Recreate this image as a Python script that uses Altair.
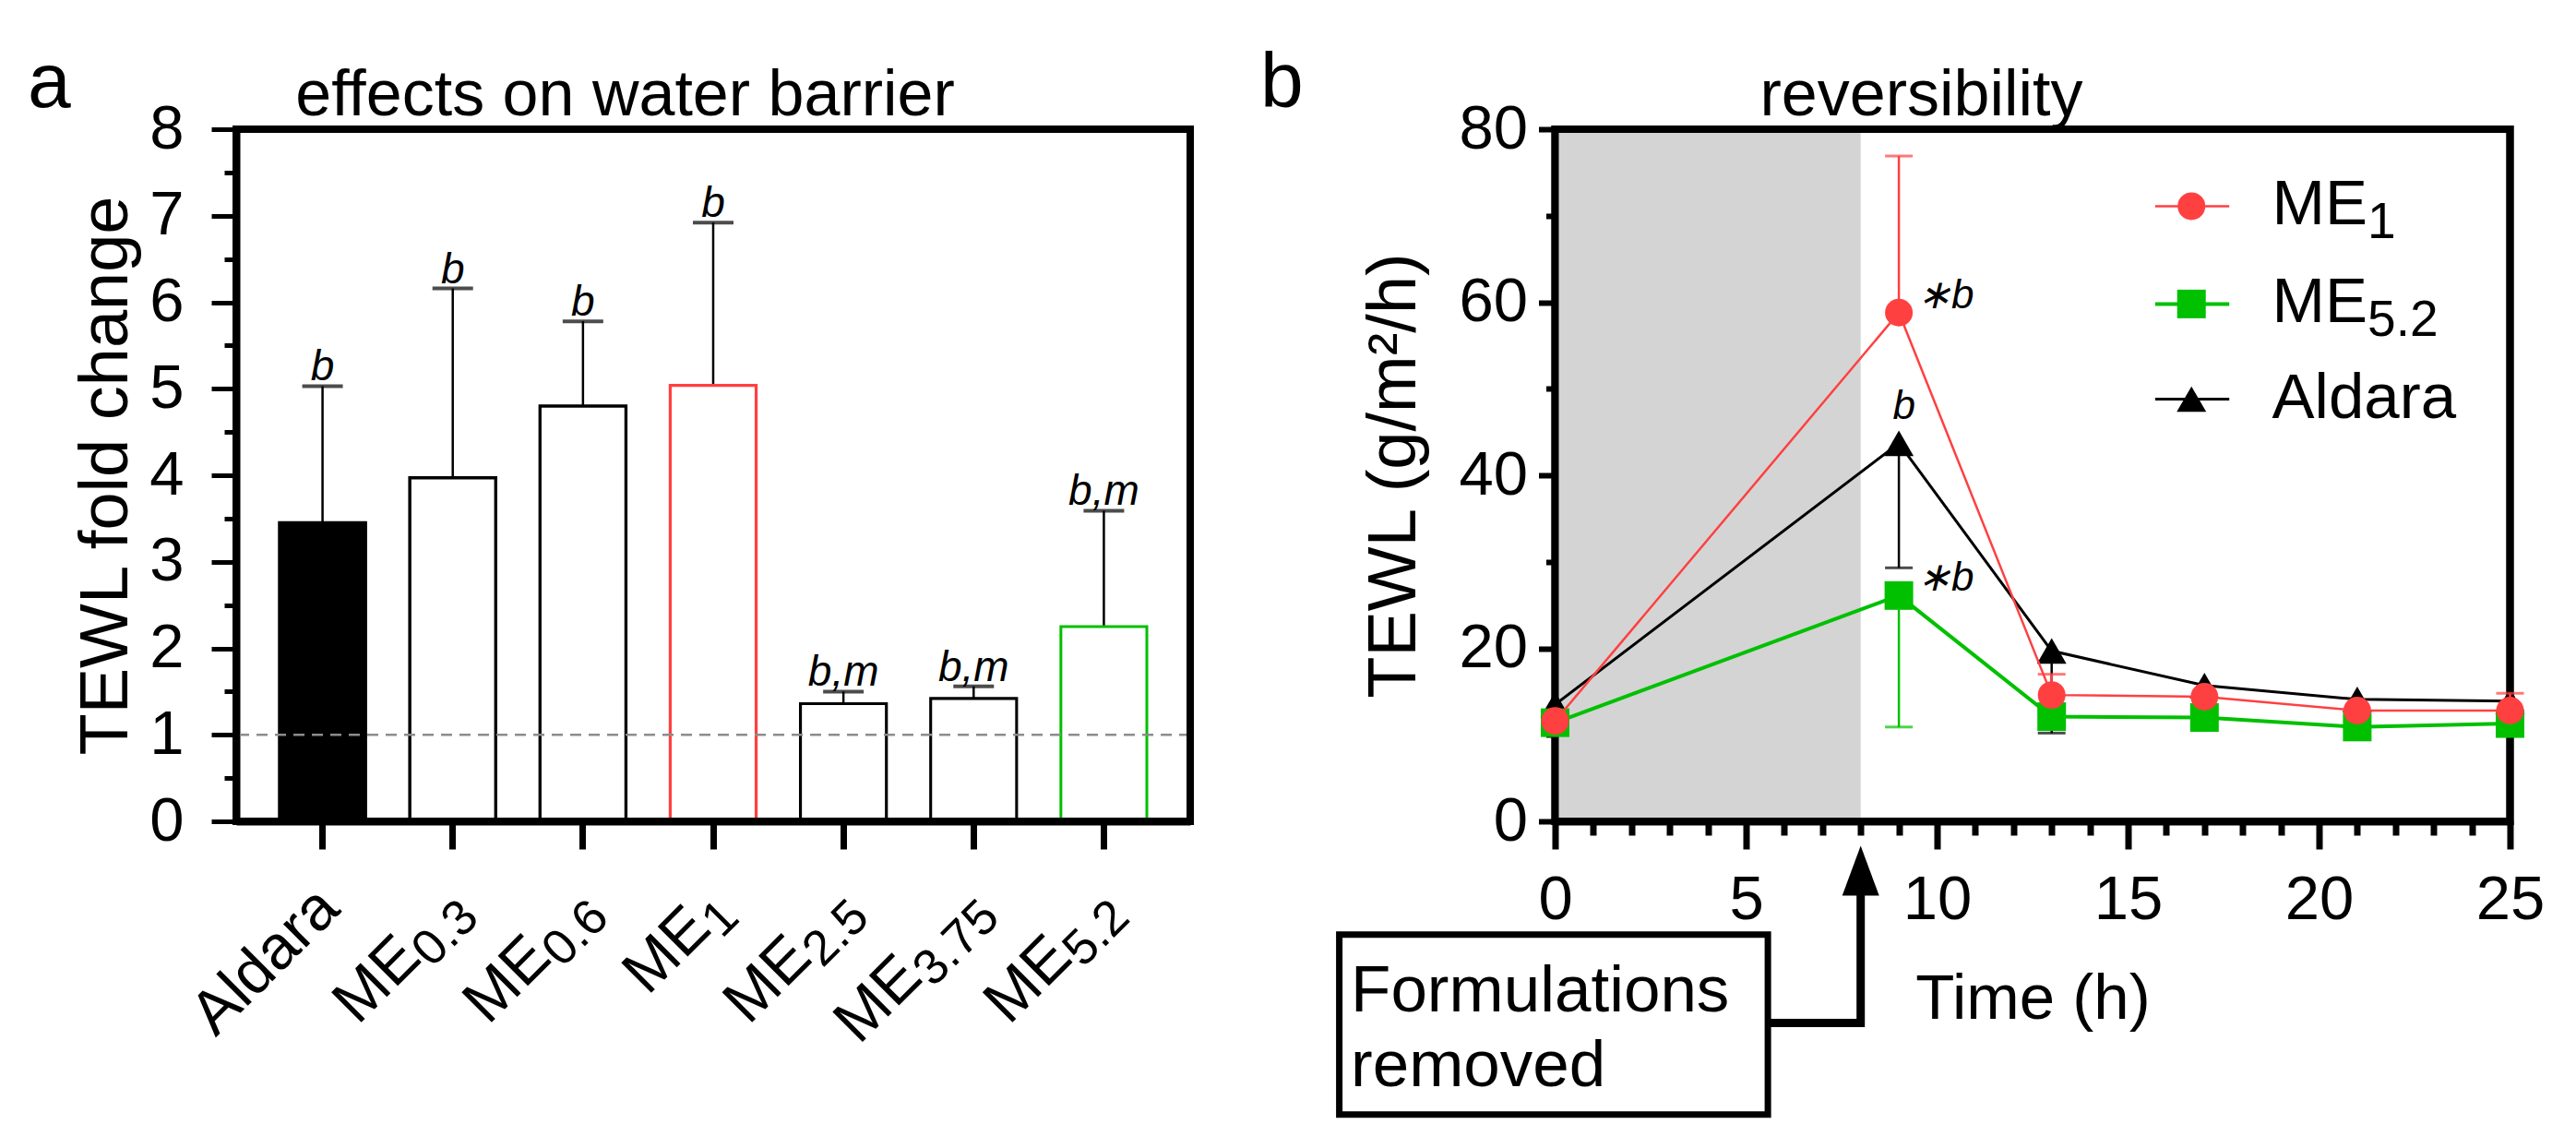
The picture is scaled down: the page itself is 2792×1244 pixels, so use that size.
import altair as alt
import pandas as pd

FONT = "Liberation Sans"
RED = "#FF4040"
GREEN = "#00C000"
SHADE = "#D4D4D4"

# ---------------- panel a : effects on water barrier ----------------
categories = ["Aldara", "ME0.3", "ME0.6", "ME1", "ME2.5", "ME3.75", "ME5.2"]
label_main = ["Aldara", "ME", "ME", "ME", "ME", "ME", "ME"]
label_sub = ["", "0.3", "0.6", "1", "2.5", "3.75", "5.2"]
fold_change = [3.45, 3.97, 4.80, 5.04, 1.36, 1.42, 2.25]
fold_sd_top = [5.03, 6.16, 5.78, 6.92, 1.50, 1.56, 3.59]
sig_a = ["b", "b", "b", "b", "b,m", "b,m", "b,m"]
reference_level = [1]

# ---------------- panel b : reversibility ----------------
time_h = [0, 9, 13, 17, 21, 25]
tewl_me1 = [11.6, 58.8, 14.6, 14.4, 12.8, 12.8]
tewl_me52 = [11.4, 26.1, 12.1, 12.0, 10.9, 11.3]
tewl_aldara = [13.5, 43.7, 19.7, 15.7, 14.1, 13.9]
sd_me1 = [None, 76.9, 17.0, None, None, 14.8]
sd_me52 = [None, 10.9, None, None, None, None]
sd_aldara = [None, 29.3, 10.2, None, None, None]
shade_start = [0]
shade_end = [8]
ann_text = ["\u2217b", "b", "\u2217b"]
ann_time = [9.48, 8.84, 9.48]
ann_tewl = [59.3, 46.5, 26.7]
legend_main = ["ME", "ME", "Aldara"]
legend_sub = ["1", "5.2", ""]

# ---------------- styles / layout ----------------
bar_fill = ["black", "white", "white", "white", "white", "white", "white"]
bar_stroke = ["black", "black", "black", RED, "black", "black", GREEN]
bar_stroke_w = [3.5, 3, 3, 2.5, 4, 4, 4.5]

WA, HA = 1034, 750
WB, HB = 1035, 750
TICK_FS = 67
LAB_FS, SUB_FS = 67, 54
LAB_DX, LAB_DY, SUB_DROP = -54, 84, 13


def sub_width(s, fs):
    return fs * sum(0.556 if c.isdigit() else 0.278 for c in s)


one = pd.DataFrame({"k": [0]})

# ================= PANEL A =================
df_a = pd.DataFrame({"cat": categories, "value": fold_change, "sd": fold_sd_top,
                     "sig": sig_a, "main": label_main, "sub": label_sub})

sx_a = alt.Scale(domain=categories, paddingInner=0.34, paddingOuter=0.333)
sy_a = alt.Scale(domain=[0, 8], nice=False, zero=False)

ax_xa = alt.Axis(labels=False, ticks=True, domain=True, title=None, tickSize=30, tickWidth=7,
                 domainWidth=8, grid=False, orient="bottom")
ax_ya = alt.Axis(values=list(range(9)), format="d", ticks=True, tickSize=27,
                 tickWidth=5, domainWidth=8, labelFontSize=TICK_FS, labelPadding=30,
                 labelOverlap=False, title="TEWL fold change", titleFontSize=74,
                 titleX=-119, titleBaseline="alphabetic", titleFontWeight="normal",
                 grid=False, orient="left")
ax_ya_minor = alt.Axis(values=[i + 0.5 for i in range(8)], tickSize=13, tickWidth=5,
                       labels=False, domain=False, title=None, grid=False, orient="left")

xa = alt.X("cat:N", scale=sx_a, axis=None)

bars = alt.Chart(df_a).mark_bar().encode(
    x=xa,
    y=alt.Y("value:Q", scale=sy_a, axis=None),
    fill=alt.Fill("cat:N", scale=alt.Scale(domain=categories, range=bar_fill), legend=None),
    stroke=alt.Stroke("cat:N", scale=alt.Scale(domain=categories, range=bar_stroke), legend=None),
    strokeWidth=alt.StrokeWidth("cat:N", scale=alt.Scale(domain=categories, range=bar_stroke_w), legend=None),
)
err_a = alt.Chart(df_a).mark_rule(color="black", strokeWidth=2.5).encode(
    x=alt.X("cat:N", scale=sx_a, axis=ax_xa),
    y=alt.Y("value:Q", scale=sy_a, axis=ax_ya), y2="sd:Q")
cap_a = alt.Chart(df_a).mark_tick(color="black", orient="horizontal", size=44, thickness=4).encode(
    x=xa, y=alt.Y("sd:Q", scale=sy_a, axis=None))
sig_txt = alt.Chart(df_a).mark_text(fontStyle="italic", fontSize=46, baseline="alphabetic",
                                    dy=-6, color="black").encode(
    x=xa, y=alt.Y("sd:Q", scale=sy_a, axis=None), text="sig:N")
ref_line = alt.Chart(pd.DataFrame({"ref": reference_level})).mark_rule(
    color="#8C8C8C", strokeDash=[12, 8], strokeWidth=2.5).encode(
    y=alt.Y("ref:Q", scale=sy_a, axis=ax_ya_minor))
frame_a = alt.Chart(one).mark_rect(fillOpacity=0, stroke="black", strokeWidth=8).encode(
    x=alt.value(0), x2=alt.value(WA), y=alt.value(0), y2=alt.value(HA))

label_layers = []
groups = {}
for c, s in zip(categories, label_sub):
    groups.setdefault(round(sub_width(s, SUB_FS), 1), []).append(c)
for w, cs in groups.items():
    label_layers.append(
        alt.Chart(df_a).transform_filter(alt.FieldOneOfPredicate(field="cat", oneOf=cs))
        .mark_text(angle=315, align="right", baseline="alphabetic", fontSize=LAB_FS,
                   dx=LAB_DX - w, dy=LAB_DY, color="black")
        .encode(x=xa, y=alt.YDatum(datum=0, scale=sy_a, axis=None), text="main:N"))
label_layers.append(
    alt.Chart(df_a).transform_filter("datum.sub != ''")
    .mark_text(angle=315, align="right", baseline="alphabetic", fontSize=SUB_FS,
               dx=LAB_DX, dy=LAB_DY + SUB_DROP, color="black")
    .encode(x=xa, y=alt.YDatum(datum=0, scale=sy_a, axis=None), text="sub:N"))

letter_a = alt.Chart(one).mark_text(text="a", fontSize=84, align="left", baseline="alphabetic",
                                    color="black").encode(x=alt.value(-226), y=alt.value(-24))
title_a = alt.Chart(one).mark_text(text="effects on water barrier", fontSize=70, align="center",
                                   baseline="alphabetic", color="black").encode(
    x=alt.value(421.5), y=alt.value(-15))

panel_a = alt.layer(err_a, bars, cap_a, sig_txt, ref_line, frame_a, *label_layers, letter_a,
                    title_a).properties(width=WA, height=HA).resolve_axis(
    x="independent", y="independent")

# ================= PANEL B =================
sx_b = alt.Scale(domain=[0, 25], nice=False, zero=False)
sy_b = alt.Scale(domain=[0, 80], nice=False, zero=False)

ax_xb = alt.Axis(values=list(range(0, 26, 5)), format="d", tickSize=30,
                 tickWidth=7, domainWidth=8, labelFontSize=TICK_FS, labelPadding=22,
                 labelFlush=False, labelOverlap=False, title="Time (h)", titleFontSize=69,
                 titleY=213.5, titleBaseline="alphabetic", titleFontWeight="normal",
                 grid=False, orient="bottom")
ax_xb_minor = alt.Axis(values=[v for v in range(26) if v % 5], tickSize=15, tickWidth=7,
                       labels=False, domain=False, title=None, grid=False, orient="bottom")
ax_yb = alt.Axis(values=list(range(0, 81, 20)), format="d", tickSize=18,
                 tickWidth=6, domainWidth=8, labelFontSize=TICK_FS, labelPadding=12,
                 labelOverlap=False, title="TEWL (g/m\u00b2/h)", titleFontSize=74,
                 titleX=-152, titleBaseline="alphabetic", titleFontWeight="normal",
                 grid=False, orient="left")
ax_yb_minor = alt.Axis(values=[10, 30, 50, 70], tickSize=10, tickWidth=6,
                       labels=False, domain=False, title=None, grid=False, orient="left")

xb = lambda f: alt.X(f, scale=sx_b, axis=None)
yb = lambda f: alt.Y(f, scale=sy_b, axis=None)

shade = alt.Chart(pd.DataFrame({"s": shade_start, "e": shade_end})).mark_rect(color=SHADE).encode(
    x=alt.X("s:Q", scale=sx_b, axis=ax_xb), x2="e:Q",
    y=alt.YDatum(datum=0, scale=sy_b, axis=ax_yb), y2=alt.Y2Datum(datum=80))
frame_b = alt.Chart(one).mark_rect(fillOpacity=0, stroke="black", strokeWidth=8).encode(
    x=alt.value(0), x2=alt.value(WB), y=alt.value(0), y2=alt.value(HB))

series = [
    ("Aldara", tewl_aldara, sd_aldara, "black", "triangle-up", 1024, 3),
    ("ME5.2", tewl_me52, sd_me52, GREEN, "square", 961, 4),
    ("ME1", tewl_me1, sd_me1, RED, "circle", 900, 2.5),
]
series_layers = []
for i, (name, vals, sds, col, shp, sz, lw) in enumerate(series):
    d = pd.DataFrame({"t": time_h, "v": vals, "sd": sds})
    de = d.dropna()
    if i == 0:
        xl = alt.X("t:Q", scale=sx_b, axis=ax_xb_minor)
        yl = alt.Y("v:Q", scale=sy_b, axis=ax_yb_minor)
    else:
        xl, yl = xb("t:Q"), yb("v:Q")
    series_layers.append(alt.Chart(d).mark_line(color=col, strokeWidth=lw).encode(x=xl, y=yl))
    series_layers.append(alt.Chart(de).mark_rule(color=col, strokeWidth=2.5).encode(
        x=xb("t:Q"), y=yb("v:Q"), y2="sd:Q"))
    series_layers.append(alt.Chart(de).mark_tick(color=col, orient="horizontal", size=30,
                                                 thickness=3).encode(x=xb("t:Q"), y=yb("sd:Q")))
    series_layers.append(alt.Chart(d).mark_point(shape=shp, size=sz, filled=True, color=col,
                                                 opacity=1).encode(x=xb("t:Q"), y=yb("v:Q")))

# legend (drawn through the data scales)
LEG_Y = [71.1, 59.8, 48.8]
LEG_X1, LEG_X2, LEG_XM, LEG_XT = 15.71, 17.65, 16.66, 18.77
legend_layers = []
for (name, vals, sds, col, shp, sz, lw), ly in zip(
        [series[2], series[1], series[0]], LEG_Y):
    dl = pd.DataFrame({"x1": [LEG_X1], "x2": [LEG_X2], "xm": [LEG_XM], "y": [ly]})
    legend_layers.append(alt.Chart(dl).mark_rule(color=col, strokeWidth=lw).encode(
        x=xb("x1:Q"), x2="x2:Q", y=yb("y:Q")))
    legend_layers.append(alt.Chart(dl).mark_point(shape=shp, size=sz, filled=True, color=col,
                                                  opacity=1).encode(x=xb("xm:Q"), y=yb("y:Q")))
dlt = pd.DataFrame({"x": [LEG_XT] * 3, "y": LEG_Y, "main": legend_main, "sub": legend_sub})
legend_layers.append(alt.Chart(dlt).mark_text(align="left", baseline="alphabetic", fontSize=69,
                                              dy=20, color="black").encode(
    x=xb("x:Q"), y=yb("y:Q"), text="main:N"))
legend_layers.append(alt.Chart(dlt).transform_filter("datum.sub != ''").mark_text(
    align="left", baseline="alphabetic", fontSize=55, dx=1.5 * 69, dy=35, color="black").encode(
    x=xb("x:Q"), y=yb("y:Q"), text="sub:N"))

ann_b = alt.Chart(pd.DataFrame({"t": ann_time, "v": ann_tewl, "txt": ann_text})).mark_text(
    align="left", baseline="alphabetic", fontSize=44, fontStyle="italic", color="black").encode(
    x=xb("t:Q"), y=yb("v:Q"), text="txt:N")

# "Formulations removed" call-out, placed in data units of panel b
box = alt.Chart(pd.DataFrame({"x0": [-5.65], "x1": [5.57], "y0": [-13.1], "y1": [-33.9]})).mark_rect(
    fill="white", stroke="black", strokeWidth=7).encode(
    x=xb("x0:Q"), x2="x1:Q", y=yb("y0:Q"), y2="y1:Q")
box_txt = alt.Chart(pd.DataFrame({"x": [-5.35, -5.35], "y": [-22.0, -30.65],
                                  "txt": ["Formulations", "removed"]})).mark_text(
    align="left", baseline="alphabetic", fontSize=71, color="black").encode(
    x=xb("x:Q"), y=yb("y:Q"), text="txt:N")
arrow = alt.Chart(pd.DataFrame({"x": [5.57, 8, 8], "y": [-23.3, -23.3, -8.2], "o": [0, 1, 2]})).mark_line(
    color="black", strokeWidth=9, strokeJoin="miter", strokeCap="butt").encode(
    x=xb("x:Q"), y=yb("y:Q"), order="o:Q")
arrow_head = alt.Chart(pd.DataFrame({"x": [8], "y": [-5.7]})).mark_point(
    shape="M0,-1L0.74,1L-0.74,1Z", size=2916, filled=True, color="black", opacity=1).encode(
    x=xb("x:Q"), y=yb("y:Q"))

letter_b = alt.Chart(one).mark_text(text="b", fontSize=84, align="left", baseline="alphabetic",
                                    color="black").encode(x=alt.value(-319.5), y=alt.value(-24))
title_b = alt.Chart(one).mark_text(text="reversibility", fontSize=70, align="center",
                                   baseline="alphabetic", color="black").encode(
    x=alt.value(397), y=alt.value(-15))

panel_b = alt.layer(shade, frame_b, *series_layers, *legend_layers, ann_b, box, box_txt, arrow,
                    arrow_head, letter_b, title_b).properties(width=WB, height=HB).resolve_axis(
    x="independent", y="independent")

chart = alt.hconcat(panel_a, panel_b, spacing=63.5).properties(
    padding={"left": 18, "top": 37, "right": 5, "bottom": 5}
).configure(font=FONT).configure_view(stroke="black", strokeWidth=8).configure_axis(
    labelFont=FONT, titleFont=FONT, labelColor="black", titleColor="black",
    domainColor="black", tickColor="black")

chart.save("out.html", embed_options={"renderer": "svg", "actions": False})
